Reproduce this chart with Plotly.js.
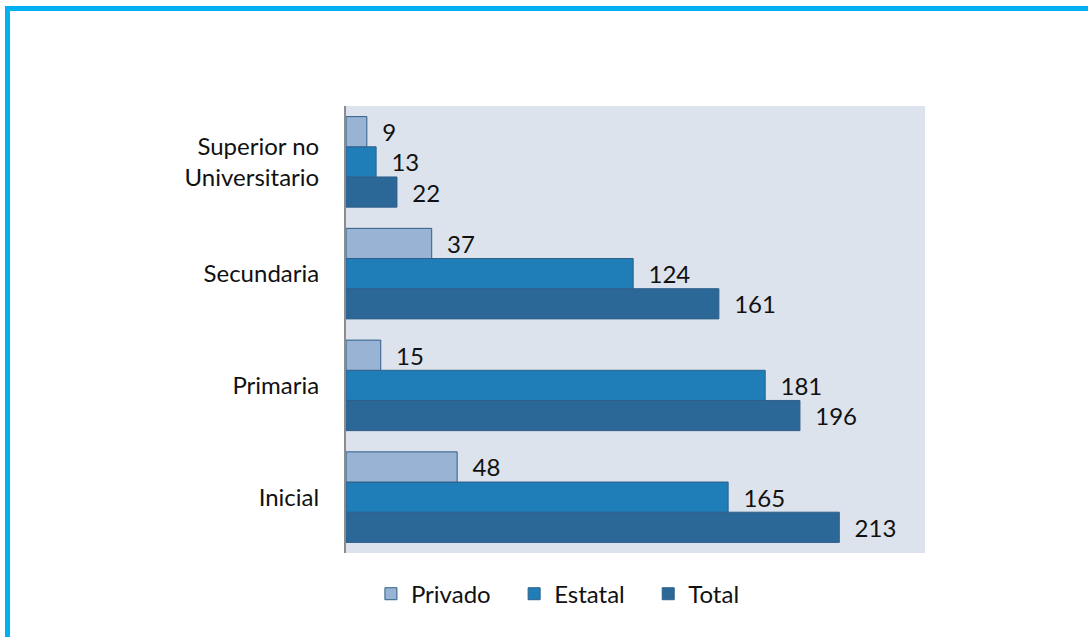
<!DOCTYPE html>
<html><head><meta charset="utf-8">
<script src="https://cdn.plot.ly/plotly-3.0.1.min.js"></script>
<style>
html,body{margin:0;padding:0;background:#fff;}
#frame{position:absolute;left:5px;top:6px;width:1083px;height:631px;border-left:5px solid #00B0F0;border-top:5px solid #00B0F0;box-sizing:border-box;pointer-events:none;z-index:10;}
#chart{width:1088px;height:637px;}
</style></head>
<body>
<div id="frame"></div>
<div id="chart"></div>
<script>
const categories = ["Inicial", "Primaria", "Secundaria", "Superior no<br>Universitario"];
const seriesNames = ["Privado", "Estatal", "Total"];
const privado = [48, 15, 37, 9];
const estatal = [165, 181, 124, 13];
const total = [213, 196, 161, 22];

const font = "Lato, 'Open Sans', sans-serif";
function tr(name, vals, color){
  return {type:'bar', orientation:'h', name:name, y:categories, x:vals,
    text:vals.map(v => '\u00a0\u00a0' + v), textposition:'outside', cliponaxis:false,
    textfont:{size:24, color:'#111', family:font},
    marker:{color:color, line:{color:'#2F5F8A', width:1}}};
}
const data = [
  tr(seriesNames[2], total, '#2B6898'),
  tr(seriesNames[1] + '\u00a0\u00a0\u00a0', estatal, '#1F7EB8'),
  tr(seriesNames[0] + '\u00a0\u00a0\u00a0', privado, '#98B3D3')
];
const layout = {
  width:1088, height:637,
  margin:{l:346, r:163, t:106, b:84},
  paper_bgcolor:'#fff', plot_bgcolor:'#DCE3EC',
  barmode:'group', bargap:0.19, bargroupgap:0,
  font:{family:font, size:24, color:'#111'},
  xaxis:{range:[0,250], showgrid:false, zeroline:false, showticklabels:false, showline:false, fixedrange:true},
  yaxis:{showgrid:false, zeroline:false, showline:true, linecolor:'#8C8C8C', linewidth:2, ticks:'', ticklabelstandoff:20, tickfont:{size:24, color:'#111', family:font}},
  showlegend:true,
  legend:{orientation:'h', traceorder:'reversed', x:0.366, xanchor:'center', y:-0.092, yanchor:'middle', font:{size:24, family:font}, itemwidth:30, bgcolor:'rgba(0,0,0,0)'}
};
Plotly.newPlot('chart', data, layout, {displayModeBar:false, staticPlot:true});
</script>
</body></html>
